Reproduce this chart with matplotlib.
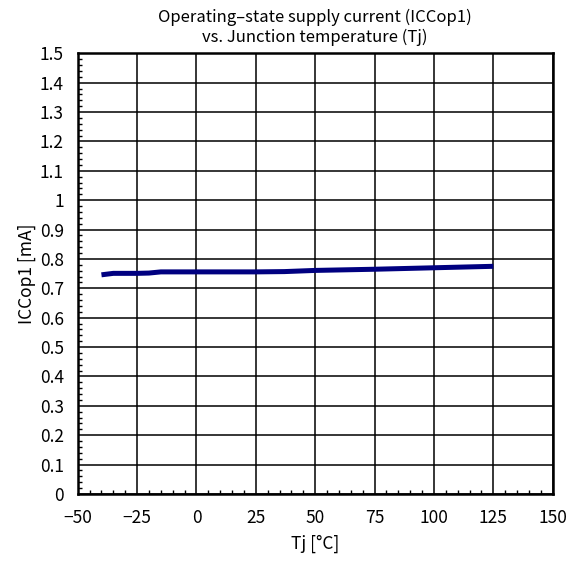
import matplotlib
matplotlib.use("Agg")
import matplotlib.pyplot as plt
from matplotlib.ticker import MultipleLocator, FuncFormatter

plt.rcParams['font.family'] = ['Noto Sans CJK JP', 'DejaVu Sans']

temps = [-40, -35, -30, -25, -20, -15, -10, 0, 25, 37, 50, 75, 100, 125]
iccop1 = [0.746, 0.751, 0.751, 0.751, 0.752, 0.756, 0.756, 0.756, 0.756, 0.757, 0.761, 0.765, 0.770, 0.775]

title = "Operating\u2013state supply current (ICCop1)\nvs. Junction temperature (Tj)"
xlabel = "Tj [\u00b0C]"
ylabel = "ICCop1 [mA]"

fig = plt.figure(figsize=(5.86, 5.64), dpi=100)
ax = fig.add_axes([77.7/586, 1 - 494/564, 475/586, 440.7/564])

ax.plot(temps, iccop1, color='#000080', linewidth=3.6, solid_capstyle='butt', zorder=3)

ax.set_xlim(-50, 150)
ax.set_ylim(0, 1.5)
ax.xaxis.set_major_locator(MultipleLocator(25))
ax.xaxis.set_minor_locator(MultipleLocator(5))
ax.yaxis.set_major_locator(MultipleLocator(0.1))
ax.yaxis.set_minor_locator(MultipleLocator(0.02))
ax.yaxis.set_major_formatter(FuncFormatter(lambda v, p: f"{v:g}"))
ax.xaxis.set_major_formatter(FuncFormatter(lambda v, p: f"{v:g}".replace('-', '\u2212')))

ax.grid(True, which='major', color='black', linewidth=1.1)
ax.tick_params(which='both', direction='in', labelsize=12.5, color='black')
ax.tick_params(which='major', length=0)
ax.tick_params(which='minor', length=3, width=1)
ax.tick_params(axis='x', which='major', pad=11)
ax.tick_params(axis='y', which='major', pad=10)
for s in ax.spines.values():
    s.set_linewidth(1.8)
    s.set_color('black')

ax.set_xlabel(xlabel, fontsize=12.5, labelpad=5)
ax.set_ylabel(ylabel, fontsize=12.5, labelpad=3)
fig.text(0.5 * (77.7 + 552.7) / 586, 1 - 27/564, title, ha='center', va='center',
         fontsize=12, linespacing=1.2)

fig.savefig("out.png", dpi=100)
